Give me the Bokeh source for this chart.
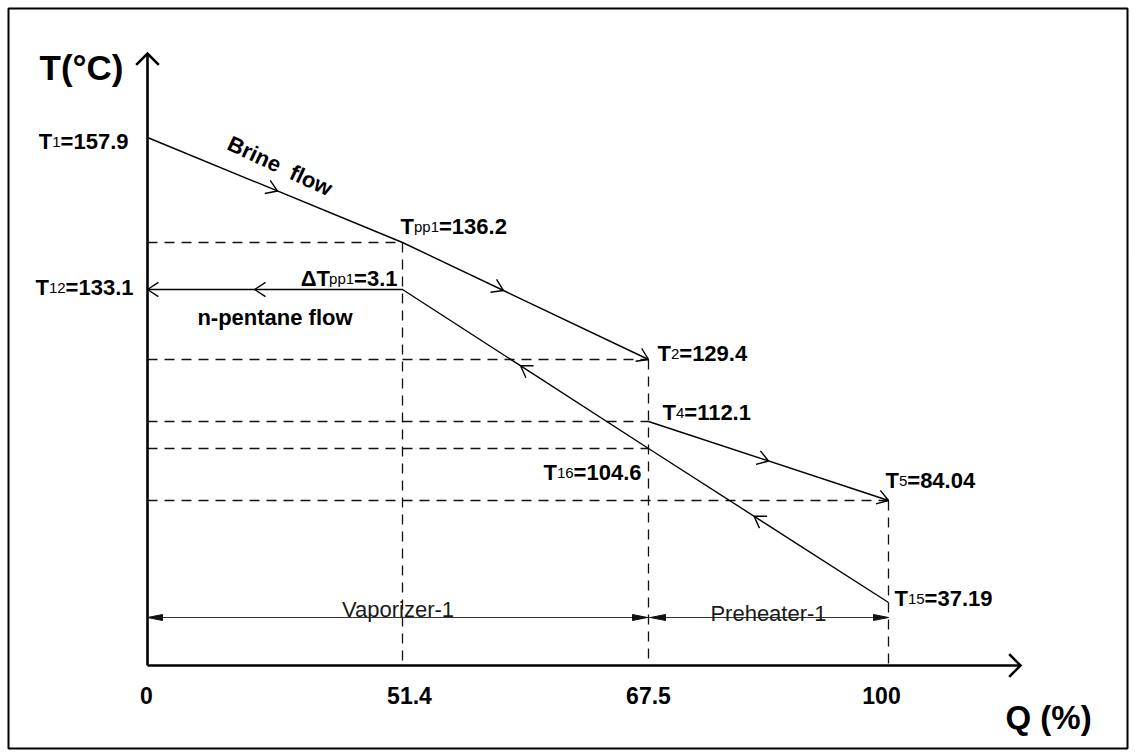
import math
import numpy as np
from bokeh.plotting import figure
from bokeh.models import ColumnDataSource, Range1d
from bokeh.core.properties import value, field
from bokeh.embed import file_html
from bokeh.resources import INLINE

# ---------------------------------------------------------------- data
# Heat duty fractions (%) at the exchanger boundaries
q_ticks = [0, 51.4, 67.5, 100]
q_tick_labels = ["0", "51.4", "67.5", "100"]

# State temperatures (°C)
T1, T_pp1, T12, T2 = 157.9, 136.2, 133.1, 129.4
T4, T16, T5, T15 = 112.1, 104.6, 84.04, 37.19
dT_pp1 = 3.1

# Brine and n-pentane paths through Vaporizer-1 and Preheater-1
brine_vap_q = [0, 51.4, 67.5]
brine_vap_t = [T1, T_pp1, T2]
pentane_vap_q = [0, 51.4, 67.5]
pentane_vap_t = [T12, T12, T16]
brine_pre_q = [67.5, 100]
brine_pre_t = [T4, T5]
pentane_pre_q = [67.5, 100]
pentane_pre_t = [T16, T15]

# ---------------------------------------------------------------- schematic scales
# Both axes are drawn schematically: every boundary / state gets its own
# level on the canvas, and values in between are interpolated linearly.
W, H = 1135, 756
Q_SCREEN = [147, 402, 648, 888]
T_LEVELS = [37.19, 84.04, 104.6, 112.1, 129.4, 133.1, 136.2, 157.9]
T_SCREEN = [602, 500, 448, 421, 359, 289, 242, 137]
AXIS_Y = 665          # position of the Q axis
T_AXIS_TOP = 53       # tip of the T axis arrow
Q_AXIS_END = 1020     # tip of the Q axis arrow
DIM_Y = 617           # level of the exchanger dimension lines


def qx(q):
    return np.interp(q, q_ticks, Q_SCREEN)


def ty(t):
    return np.interp(t, T_LEVELS, T_SCREEN)


X0 = float(qx(0))

p = figure(width=W, height=H, output_backend="svg", toolbar_location=None,
           x_range=Range1d(0, W), y_range=Range1d(H, 0),
           x_axis_type=None, y_axis_type=None, min_border=0)
p.grid.visible = False
p.outline_line_color = None
p.background_fill_color = "white"
p.border_fill_color = "white"

FONT = value("Liberation Sans")

# frame around the whole drawing
p.quad(left=[8], right=[1127], top=[8], bottom=[748], fill_color=None,
       line_color="black", line_width=2)


# ---------------------------------------------------------------- helpers
def chevron(tip, direction, length, half_angle_deg):
    dx, dy = direction
    n = math.hypot(dx, dy)
    bx, by = -dx / n, -dy / n
    pts = []
    for s in (1, -1):
        a = math.radians(s * half_angle_deg)
        rx = bx * math.cos(a) - by * math.sin(a)
        ry = bx * math.sin(a) + by * math.cos(a)
        pts.append((tip[0] + length * rx, tip[1] + length * ry))
    return ([pts[0][0], tip[0], pts[1][0]], [pts[0][1], tip[1], pts[1][1]])


def solid_head(tip, direction, length=15, half_width=3):
    dx, dy = direction
    n = math.hypot(dx, dy)
    ux, uy = dx / n, dy / n
    nx, ny = -uy, ux
    bx, by = tip[0] - length * ux, tip[1] - length * uy
    return ([tip[0], bx + half_width * nx, bx - half_width * nx],
            [tip[1], by + half_width * ny, by - half_width * ny])


def point_on(a, b, frac):
    return (a[0] + (b[0] - a[0]) * frac, a[1] + (b[1] - a[1]) * frac)


# ---------------------------------------------------------------- axes
p.line([X0, X0], [AXIS_Y, T_AXIS_TOP], line_color="black", line_width=2.6)
p.line([X0, Q_AXIS_END], [AXIS_Y, AXIS_Y], line_color="black", line_width=2.6)
ax_x, ax_y = [], []
for tip, d in [((X0, T_AXIS_TOP), (0, -1)), ((Q_AXIS_END, AXIS_Y), (1, 0))]:
    cx, cy = chevron(tip, d, 16, 45)
    ax_x.append(cx)
    ax_y.append(cy)
p.multi_line(ax_x, ax_y, line_color="black", line_width=2.6, line_join="miter")

# ---------------------------------------------------------------- dashed guides
dash = dict(line_color="#111111", line_width=1.3, line_dash="10 7")
for t, q_end in [(T_pp1, 51.4), (T2, 67.5), (T4, 67.5), (T16, 67.5), (T5, 100)]:
    y = float(ty(t))
    p.line([X0, float(qx(q_end))], [y, y], **dash)
for q, t in [(51.4, T_pp1), (67.5, T2), (100, T5)]:
    x = float(qx(q))
    p.line([x, x], [float(ty(t)), AXIS_Y], **dash)

# ---------------------------------------------------------------- process lines
for qs, ts in [(brine_vap_q, brine_vap_t), (pentane_vap_q, pentane_vap_t),
               (brine_pre_q, brine_pre_t), (pentane_pre_q, pentane_pre_t)]:
    p.line(qx(qs), ty(ts), line_color="black", line_width=1.4)

# flow-direction chevrons: (path Q, path T, segment index, position, reversed)
flow_marks = [
    (brine_vap_q, brine_vap_t, 0, 0.51, False),
    (brine_vap_q, brine_vap_t, 1, 0.41, False),
    (brine_vap_q, brine_vap_t, 1, 1.00, False),
    (brine_pre_q, brine_pre_t, 0, 0.50, False),
    (brine_pre_q, brine_pre_t, 0, 1.00, False),
    (pentane_vap_q, pentane_vap_t, 0, 0.00, True),
    (pentane_vap_q, pentane_vap_t, 0, 0.42, True),
    (pentane_vap_q, pentane_vap_t, 1, 0.48, True),
    (pentane_pre_q, pentane_pre_t, 0, 0.44, True),
]
fx, fy = [], []
for qs, ts, i, frac, rev in flow_marks:
    a = (float(qx(qs[i])), float(ty(ts[i])))
    b = (float(qx(qs[i + 1])), float(ty(ts[i + 1])))
    tip = point_on(a, b, frac)
    d = (a[0] - b[0], a[1] - b[1]) if rev else (b[0] - a[0], b[1] - a[1])
    cx, cy = chevron(tip, d, 13, 33)
    fx.append(cx)
    fy.append(cy)
p.multi_line(fx, fy, line_color="black", line_width=1.4)

# ---------------------------------------------------------------- exchanger spans
spans = [("Vaporizer-1", 0, 67.5, -8), ("Preheater-1", 67.5, 100, -4)]
hx, hy = [], []
for name, qa, qb, dy in spans:
    xa, xb = float(qx(qa)), float(qx(qb))
    p.line([xa, xb], [DIM_Y, DIM_Y], line_color="#333333", line_width=1)
    for tip, d in [((xa + (2 if qa > 0 else 0), DIM_Y), (-1, 0)),
                   ((xb - (1 if qb < 100 else 0), DIM_Y), (1, 0))]:
        sx, sy = solid_head(tip, d)
        hx.append(sx)
        hy.append(sy)
    p.text(x=[(xa + xb) / 2], y=[DIM_Y + dy], text=[name], text_font=FONT,
           text_font_size="22px", text_align="center",
           text_baseline="alphabetic", text_color="#1a1a1a")
p.patches(hx, hy, fill_color="#111111", line_color="#111111", line_width=1)

# ---------------------------------------------------------------- labels
BOLD_W = {"T": .611, "=": .584, ".": .278, "p": .611, "Δ": .68, " ": .278,
          "B": .722, "r": .389, "i": .278, "n": .611, "e": .556, "f": .333,
          "l": .278, "o": .611, "w": .778}
REG_W = {"p": .556}
txt_b = dict(x=[], y=[], text=[], size=[])
txt_r = dict(x=[], y=[], text=[], size=[])


def text_width(s, size, bold):
    table = BOLD_W if bold else REG_W
    return sum(table.get(c, .556) for c in s) * size


def label(x, y, parts, align="left"):
    widths = [text_width(s, sz, b) for s, sz, b in parts]
    total = sum(widths)
    start = x if align == "left" else x - total
    for (s, sz, b), w in zip(parts, widths):
        d = txt_b if b else txt_r
        d["x"].append(start)
        d["y"].append(y)
        d["text"].append(s)
        d["size"].append(f"{sz}px")
        start += w


def state(name, sub, val, x, y, align="left"):
    label(x, y, [(name, 22, True), (sub, 15, False), (f"={val}", 22, True)], align)


x_vap, x_mid, x_end = float(qx(0)), float(qx(51.4)), float(qx(67.5))
x_100 = float(qx(100))
state("T", "1", "157.9", x_vap - 19, ty(T1) + 4, "right")
state("T", "12", "133.1", x_vap - 14, ty(T12) - 2, "right")
state("ΔT", "pp1", dT_pp1, x_mid - 5, ty(T12) - 11, "right")
state("T", "pp1", T_pp1, x_mid - 2, ty(T_pp1) - 16)
state("T", "2", T2, x_end + 9, ty(T2) - 6)
state("T", "4", T4, x_end + 14, ty(T4) - 9)
state("T", "16", T16, x_end - 7, ty(T16) + 24, "right")
state("T", "5", T5, x_100 - 3, ty(T5) - 20)
state("T", "15", T15, x_100 + 6, ty(T15) - 4)

for d, style in [(txt_b, "bold"), (txt_r, "normal")]:
    p.text(x="x", y="y", text="text", source=ColumnDataSource(d),
           text_font=FONT, text_font_style=style, text_font_size=field("size"),
           text_align="left", text_baseline="alphabetic", text_color="black")

# flow names: "Brine  flow" runs along the first brine segment
a = (float(qx(brine_vap_q[0])), float(ty(brine_vap_t[0])))
b = (float(qx(brine_vap_q[1])), float(ty(brine_vap_t[1])))
mid = point_on(a, b, 0.5)
theta = math.radians(25)
ux, uy = math.cos(theta), math.sin(theta)
words = ["Brine", "flow"]
w_brine = text_width("Brine", 22, True)
gap = 2 * text_width(" ", 22, True)
total = w_brine + gap + text_width("flow", 22, True)
cx, cy = mid[0] + 5, mid[1] - 24
sx0, sy0 = cx - total / 2 * ux, cy - total / 2 * uy
offs = [0, w_brine + gap]
p.text(x=[sx0 + o * ux for o in offs], y=[sy0 + o * uy for o in offs],
       text=words, angle=-theta, text_font=FONT, text_font_style="bold",
       text_font_size="22px", text_align="left", text_baseline="middle",
       text_color="black")
p.text(x=[(x_vap + x_mid) / 2], y=[ty(T12) + 28], text=["n-pentane flow"],
       text_font=FONT, text_font_style="bold", text_font_size="22px",
       text_align="center", text_baseline="alphabetic", text_color="black")

# axis titles and Q tick labels
p.text(x=[X0 - 24], y=[67], text=["T(°C)"], text_font=FONT,
       text_font_style="bold", text_font_size="35px", text_align="right",
       text_baseline="alphabetic", text_color="black")
p.text(x=[1005], y=[717], text=["Q (%)"], text_font=FONT,
       text_font_style="bold", text_font_size="33px", text_align="left",
       text_baseline="alphabetic", text_color="black")
tick_dx = [-1, 7, 0, -7]
p.text(x=[float(qx(q)) + dx for q, dx in zip(q_ticks, tick_dx)],
       y=[695] * len(q_ticks), text=q_tick_labels, text_font=FONT,
       text_font_style="bold", text_font_size="23px", text_align="center",
       text_baseline="alphabetic", text_color="black")

open("out.html", "w").write(file_html(p, INLINE))
